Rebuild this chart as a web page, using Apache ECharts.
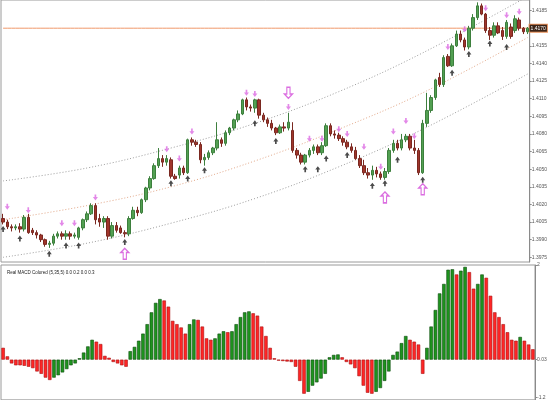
<!DOCTYPE html>
<html>
<head>
<meta charset="utf-8">
<script src="https://cdn.jsdelivr.net/npm/echarts@6/dist/echarts.min.js"></script>
<style>
html,body{margin:0;padding:0;background:#fff;}
#c{width:550px;height:400px;}
</style>
</head>
<body>
<div id="c"></div>
<script>
// ---- candles (prices) ----
const OPEN = [1.4008,1.4005,1.4001,1.4000,1.4001,1.3999,1.4009,1.3998,1.3996,1.3994,1.3990,1.3986,1.3987,1.3993,1.3995,1.3993,1.3995,1.3993,1.3992,1.4000,1.4007,1.4012,1.4019,1.4008,1.4005,1.4008,1.3993,1.4002,1.4000,1.3996,1.3995,1.4008,1.4015,1.4013,1.4024,1.4034,1.4042,1.4053,1.4059,1.4056,1.4058,1.4044,1.4045,1.4051,1.4047,1.4075,1.4073,1.4071,1.4058,1.4060,1.4064,1.4068,1.4075,1.4072,1.4081,1.4085,1.4092,1.4097,1.4109,1.4103,1.4102,1.4109,1.4096,1.4092,1.4089,1.4085,1.4081,1.4086,1.4085,1.4083,1.4066,1.4062,1.4056,1.4062,1.4066,1.4069,1.4064,1.4070,1.4087,1.4080,1.4079,1.4076,1.4073,1.4069,1.4066,1.4059,1.4053,1.4047,1.4045,1.4049,1.4046,1.4043,1.4048,1.4066,1.4072,1.4068,1.4075,1.4078,1.4068,1.4066,1.4047,1.4089,1.4100,1.4111,1.4128,1.4122,1.4146,1.4138,1.4155,1.4165,1.4160,1.4154,1.4170,1.4179,1.4189,1.4182,1.4168,1.4164,1.4172,1.4168,1.4163,1.4171,1.4168,1.4177,1.4170,1.4167];
const CLOSE = [1.4005,1.4001,1.4000,1.4001,1.3999,1.4009,1.3996,1.3996,1.3994,1.3990,1.3986,1.3987,1.3993,1.3995,1.3993,1.3995,1.3993,1.3994,1.4000,1.4007,1.4012,1.4019,1.4007,1.4005,1.4008,1.3993,1.4002,1.3998,1.3996,1.3995,1.4008,1.4015,1.4013,1.4024,1.4034,1.4042,1.4053,1.4059,1.4056,1.4059,1.4044,1.4042,1.4051,1.4047,1.4075,1.4073,1.4071,1.4058,1.4060,1.4064,1.4068,1.4075,1.4072,1.4081,1.4085,1.4092,1.4097,1.4109,1.4103,1.4102,1.4109,1.4096,1.4092,1.4089,1.4085,1.4081,1.4086,1.4085,1.4090,1.4066,1.4062,1.4056,1.4062,1.4066,1.4069,1.4064,1.4070,1.4087,1.4080,1.4079,1.4076,1.4073,1.4069,1.4066,1.4059,1.4053,1.4047,1.4045,1.4049,1.4046,1.4043,1.4048,1.4066,1.4072,1.4068,1.4075,1.4078,1.4068,1.4066,1.4047,1.4089,1.4100,1.4111,1.4126,1.4122,1.4145,1.4138,1.4155,1.4165,1.4160,1.4154,1.4170,1.4179,1.4189,1.4182,1.4168,1.4164,1.4172,1.4166,1.4163,1.4175,1.4163,1.4178,1.4170,1.4167,1.4170];
const HIGH = [1.4012,1.4007,1.4003,1.4003,1.4004,1.4011,1.4012,1.4000,1.3998,1.3995,1.3991,1.3989,1.3995,1.3997,1.3997,1.3998,1.3997,1.3996,1.4001,1.4008,1.4014,1.4021,1.4021,1.4012,1.4010,1.4010,1.4005,1.4005,1.4002,1.3998,1.4010,1.4018,1.4018,1.4025,1.4035,1.4044,1.4055,1.4068,1.4062,1.4062,1.4060,1.4046,1.4053,1.4053,1.4076,1.4077,1.4075,1.4073,1.4063,1.4066,1.4069,1.4090,1.4077,1.4083,1.4086,1.4093,1.4100,1.4110,1.4111,1.4105,1.4110,1.4110,1.4098,1.4094,1.4092,1.4086,1.4088,1.4090,1.4098,1.4090,1.4068,1.4064,1.4063,1.4068,1.4071,1.4071,1.4073,1.4089,1.4089,1.4083,1.4081,1.4078,1.4075,1.4072,1.4069,1.4062,1.4058,1.4051,1.4053,1.4052,1.4048,1.4051,1.4068,1.4075,1.4075,1.4080,1.4080,1.4080,1.4075,1.4068,1.4092,1.4115,1.4113,1.4127,1.4132,1.4147,1.4148,1.4157,1.4168,1.4168,1.4162,1.4172,1.4182,1.4192,1.4191,1.4183,1.4171,1.4175,1.4175,1.4171,1.4177,1.4174,1.4181,1.4179,1.4171,1.4171];
const LOW = [1.4003,1.3999,1.3997,1.3998,1.3996,1.3997,1.3995,1.3994,1.3991,1.3988,1.3984,1.3983,1.3985,1.3991,1.3990,1.3990,1.3990,1.3991,1.3990,1.3998,1.4005,1.4011,1.4003,1.4001,1.4000,1.3990,1.3991,1.3996,1.3995,1.3992,1.3993,1.4007,1.4010,1.4012,1.4022,1.4032,1.4041,1.4051,1.4052,1.4053,1.4042,1.4041,1.4042,1.4045,1.4046,1.4070,1.4069,1.4055,1.4053,1.4058,1.4062,1.4066,1.4069,1.4070,1.4079,1.4083,1.4090,1.4096,1.4100,1.4099,1.4098,1.4093,1.4090,1.4086,1.4083,1.4079,1.4080,1.4082,1.4083,1.4064,1.4059,1.4054,1.4054,1.4060,1.4063,1.4062,1.4062,1.4069,1.4078,1.4076,1.4074,1.4070,1.4067,1.4064,1.4058,1.4051,1.4045,1.4042,1.4041,1.4043,1.4041,1.4041,1.4046,1.4064,1.4066,1.4066,1.4073,1.4066,1.4063,1.4045,1.4046,1.4086,1.4098,1.4109,1.4120,1.4120,1.4137,1.4137,1.4154,1.4158,1.4151,1.4152,1.4168,1.4177,1.4181,1.4166,1.4160,1.4162,1.4165,1.4160,1.4161,1.4161,1.4166,1.4168,1.4165,1.4165];
const CATEGORIES = OPEN.map((_, i) => String(i + 1));

// ---- channel lines: [bar index, price] read at a few bars ----
const CHANNEL_TOP = [[0,1.4040],[20,1.4051],[40,1.4068],[60,1.4089],[80,1.4116],[100,1.4149],[125,1.4197]];
const CHANNEL_MID = [[0,1.4007],[20,1.4019],[40,1.4035],[60,1.4057],[80,1.4084],[100,1.4115],[125,1.4162]];
const CHANNEL_BOT = [[0,1.3975],[20,1.3987],[40,1.4004],[60,1.4025],[80,1.4052],[100,1.4084],[125,1.4131]];

// ---- signal arrows ----
const SELL_ARROWS = [[1,1.4018],[6,1.4015],[14,1.4004],[17,1.4004],[22,1.4026],[39,1.4067],[42,1.4059],[45,1.4082],[58,1.4115],[60,1.4114],[68,1.4103],[73,1.4076],[76,1.4076],[80,1.4084],[82,1.4080],[86,1.4069],[90,1.4052],[93,1.4082],[96,1.4091],[98,1.4078],[106,1.4154],[110,1.4169],[115,1.4187],[120,1.4181],[123,1.4184]];
const BUY_ARROWS = [[0,1.3999],[4,1.3991],[11,1.3978],[15,1.3985],[18,1.3985],[29,1.3988],[40,1.4038],[44,1.4042],[48,1.4049],[60,1.4089],[65,1.4074],[72,1.4050],[75,1.4050],[77,1.4059],[82,1.4062],[88,1.4036],[91,1.4038],[94,1.4058],[100,1.4041],[107,1.4132],[111,1.4148],[116,1.4157],[120,1.4154]];
const BIG_UP = [[29,1.3978],[91,1.4026],[100,1.4033]];
const BIG_DOWN = [[68,1.4115]];

// ---- price axis ----
const PRICE_MIN = 1.3971, PRICE_MAX = 1.4194;
const PRICE_TICKS = [1.3975,1.3990,1.4005,1.4020,1.4035,1.4050,1.4065,1.4080,1.4095,1.4110,1.4125,1.4140,1.4155,1.4185];

// ---- MACD histogram ----
const MACD = [0.25,0.07,-0.08,-0.12,-0.12,-0.13,-0.15,-0.18,-0.25,-0.30,-0.38,-0.43,-0.38,-0.33,-0.27,-0.20,-0.12,-0.08,0.03,0.15,0.28,0.42,0.38,0.33,0.08,0.04,-0.05,-0.08,-0.12,-0.15,0.18,0.27,0.40,0.55,0.75,1.00,1.20,1.28,1.25,1.12,0.82,0.75,0.68,0.55,0.75,0.85,0.84,0.70,0.45,0.42,0.45,0.55,0.60,0.58,0.60,0.75,0.90,1.00,1.02,0.98,0.93,0.70,0.50,0.25,0.03,-0.02,-0.03,-0.04,-0.05,-0.15,-0.45,-0.72,-0.68,-0.55,-0.48,-0.40,-0.30,0.05,0.10,0.11,0.05,-0.05,-0.10,-0.18,-0.35,-0.55,-0.70,-0.72,-0.68,-0.60,-0.45,-0.25,0.10,0.17,0.35,0.50,0.42,0.38,0.32,-0.30,0.25,0.70,1.05,1.40,1.60,1.90,1.91,1.80,1.88,1.96,1.85,1.50,1.60,1.80,1.73,1.35,1.00,0.90,0.75,0.58,0.42,0.40,0.48,0.40,0.32,0.22];
const MACD_MIN = -0.85, MACD_MAX = 2.0;
const MACD_TICK_VALUES = [2.0, 0, -0.8];
const MACD_TICK_LABELS = ['2', '0.03', '-1.2'];
const MACD_TITLE = 'Real MACD Colored (5,35,5) 0.0 0.2 0.0 0.3';

const candleData = OPEN.map((o, i) => [o, CLOSE[i], LOW[i], HIGH[i]]);
const macdData = MACD.map((v, i) => {
  const up = i > 0 && v > MACD[i - 1];
  return {
    value: v,
    itemStyle: up ? {color: '#1e941e', borderColor: '#0c4a0c'} : {color: '#ff2626', borderColor: '#a81010'}
  };
});
const lastClose = CLOSE[CLOSE.length - 1];
const priceLineData = CLOSE.map(() => lastClose);

const FONT = 'Liberation Sans';
const upArrowPath = 'path://M3,0 L6,4 L4,4 L4,7 L2,7 L2,4 L0,4 Z';
const downArrowPath = 'path://M2,0 L4,0 L4,3 L6,3 L3,7 L0,3 L2,3 Z';
const bigArrowPath = 'path://M5,0 L10,5 L7,5 L7,13 L3,13 L3,5 L0,5 Z';

const chart = echarts.init(document.getElementById('c'), null, {renderer: 'canvas'});
chart.setOption({
  animation: false,
  backgroundColor: '#ffffff',
  title: {
    text: MACD_TITLE, left: 2, top: 265,
    textStyle: {fontSize: 4.5, fontWeight: 'normal', color: '#222', fontFamily: FONT}
  },
  grid: [
    {left: 1, right: 15, top: 0, height: 262, show: true, borderColor: '#9a9a9a', borderWidth: 1},
    {left: 1, right: 15, top: 265, bottom: 0, show: true, borderColor: '#9a9a9a', borderWidth: 1}
  ],
  xAxis: [
    {type: 'category', data: CATEGORIES, gridIndex: 0, boundaryGap: true,
     axisLine: {show: false}, axisTick: {show: false}, axisLabel: {show: false}, splitLine: {show: false}},
    {type: 'category', data: CATEGORIES, gridIndex: 1, boundaryGap: true,
     axisLine: {show: false}, axisTick: {show: false}, axisLabel: {show: false}, splitLine: {show: false}}
  ],
  yAxis: [
    {type: 'value', gridIndex: 0, position: 'right', min: PRICE_MIN, max: PRICE_MAX, scale: true,
     axisLine: {show: true, lineStyle: {color: '#8a8a8a'}},
     axisTick: {show: true, length: 2, lineStyle: {color: '#8a8a8a'}, customValues: PRICE_TICKS},
     axisLabel: {show: true, fontSize: 5, color: '#555', margin: 2, fontFamily: FONT,
       customValues: PRICE_TICKS, formatter: v => Number(v).toFixed(4)},
     splitLine: {show: false}},
    {type: 'value', gridIndex: 1, position: 'right', min: MACD_MIN, max: MACD_MAX,
     axisLine: {show: true, lineStyle: {color: '#8a8a8a'}},
     axisTick: {show: true, length: 2, lineStyle: {color: '#8a8a8a'}, customValues: MACD_TICK_VALUES},
     axisLabel: {show: true, fontSize: 5, color: '#555', margin: 2, fontFamily: FONT,
       customValues: MACD_TICK_VALUES,
       formatter: v => { const k = MACD_TICK_VALUES.findIndex(t => Math.abs(t - v) < 1e-9); return k >= 0 ? MACD_TICK_LABELS[k] : ''; }},
     splitLine: {show: false}}
  ],
  series: [
    {type: 'line', xAxisIndex: 0, yAxisIndex: 0, data: CHANNEL_TOP, smooth: 0.4, symbol: 'none',
     lineStyle: {color: '#9c9c9c', width: 1, type: [1, 2]}, z: 1, silent: true},
    {type: 'line', xAxisIndex: 0, yAxisIndex: 0, data: CHANNEL_MID, smooth: 0.4, symbol: 'none',
     lineStyle: {color: '#e3a98a', width: 1, type: [1, 2]}, z: 1, silent: true},
    {type: 'line', xAxisIndex: 0, yAxisIndex: 0, data: CHANNEL_BOT, smooth: 0.4, symbol: 'none',
     lineStyle: {color: '#9c9c9c', width: 1, type: [1, 2]}, z: 1, silent: true},
    {type: 'line', xAxisIndex: 0, yAxisIndex: 0, data: priceLineData, symbol: 'none', silent: true, z: 2,
     lineStyle: {color: '#f0986a', width: 1},
     endLabel: {show: true, formatter: p => Number(p.value).toFixed(4), fontSize: 5, color: '#ffffff',
       backgroundColor: '#3a2418', borderColor: '#e8905a', borderWidth: 1, padding: [1, 1], distance: 2, fontFamily: FONT}},
    {type: 'candlestick', xAxisIndex: 0, yAxisIndex: 0, data: candleData, barWidth: 3, z: 3,
     itemStyle: {color: '#52a052', color0: '#a0352b', borderColor: '#3d7f3d', borderColor0: '#7a2820', borderWidth: 1}},
    {type: 'scatter', xAxisIndex: 0, yAxisIndex: 0, data: SELL_ARROWS, symbol: downArrowPath,
     symbolSize: [5, 6], itemStyle: {color: '#dc6ae2'}, z: 5},
    {type: 'scatter', xAxisIndex: 0, yAxisIndex: 0, data: BUY_ARROWS, symbol: upArrowPath,
     symbolSize: [5, 6], itemStyle: {color: '#1e1e1e'}, z: 5},
    {type: 'scatter', xAxisIndex: 0, yAxisIndex: 0, data: BIG_UP, symbol: bigArrowPath,
     symbolSize: [8, 11], itemStyle: {color: '#ffffff', borderColor: '#d24ad8', borderWidth: 1.3}, z: 5},
    {type: 'scatter', xAxisIndex: 0, yAxisIndex: 0, data: BIG_DOWN, symbol: bigArrowPath, symbolRotate: 180,
     symbolSize: [8, 11], itemStyle: {color: '#ffffff', borderColor: '#d24ad8', borderWidth: 1.3}, z: 5},
    {type: 'bar', xAxisIndex: 1, yAxisIndex: 1, data: macdData, barWidth: '82%',
     itemStyle: {borderWidth: 0.6}, z: 2}
  ]
});
</script>
</body>
</html>
